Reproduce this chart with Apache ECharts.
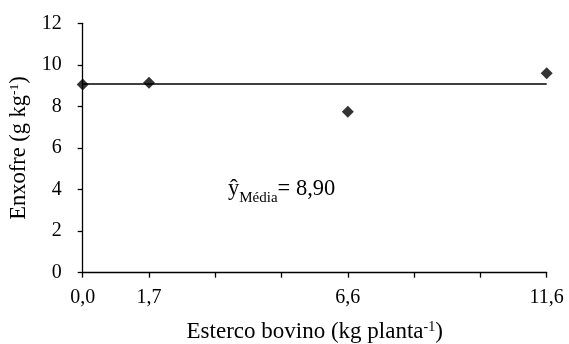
<!DOCTYPE html>
<html>
<head>
<meta charset="utf-8">
<script src="https://cdn.jsdelivr.net/npm/echarts@6/dist/echarts.min.js"></script>
<style>html,body{margin:0;padding:0;background:#fff;}#c{width:569px;height:344px;}</style>
</head>
<body>
<div id="c"></div>
<script>
const categories = ['0,0', '1,7', '', '', '6,6', '', '', '11,6'];
const enxofre = [9.05, 9.14, '-', '-', 7.75, '-', '-', 9.6];
const meanLine = [9.08, '-', '-', '-', '-', '-', '-', 9.08];
const yTicks = [0, 2, 4, 6, 8, 10, 12];
const annotationValue = '8,90';

const font = 'Liberation Serif';
const chart = echarts.init(document.getElementById('c'), null, {renderer: 'canvas'});
chart.setOption({
  animation: false,
  backgroundColor: '#fff',
  grid: {left: 82.7, right: 22.3, top: 23.3, bottom: 71.3, containLabel: false, outerBoundsMode: 'none'},
  xAxis: {
    type: 'category',
    data: categories,
    boundaryGap: false,
    axisLine: {lineStyle: {color: '#000', width: 1.3}},
    axisTick: {show: true, interval: 0, length: 5, lineStyle: {color: '#000', width: 1.3}},
    axisLabel: {interval: 0, color: '#000', fontFamily: font, fontSize: 20, margin: 15, hideOverlap: false},
    splitLine: {show: false},
    name: '{a|Esterco bovino (kg planta}{s|-1}{a|)}',
    nameLocation: 'middle',
    nameGap: 48,
    nameTextStyle: {
      rich: {
        a: {fontFamily: font, fontSize: 23, color: '#000', verticalAlign: 'bottom'},
        s: {fontFamily: font, fontSize: 14, color: '#000', verticalAlign: 'top', padding: [0, 0, 9, 0]}
      }
    }
  },
  yAxis: {
    type: 'value',
    min: yTicks[0],
    max: yTicks[yTicks.length - 1],
    interval: 2,
    axisLine: {show: true, lineStyle: {color: '#000', width: 1.3}},
    axisTick: {show: true, length: 5, lineStyle: {color: '#000', width: 1.3}},
    axisLabel: {color: '#000', fontFamily: font, fontSize: 20, margin: 21},
    splitLine: {show: false},
    name: '{a|Enxofre (g kg}{s|-1}{a|)}',
    nameLocation: 'middle',
    nameGap: 50,
    nameTextStyle: {
      rich: {
        a: {fontFamily: font, fontSize: 22.5, color: '#000', verticalAlign: 'bottom'},
        s: {fontFamily: font, fontSize: 13.5, color: '#000', verticalAlign: 'top', padding: [0, 0, 9, 0]}
      }
    }
  },
  series: [
    {
      type: 'line',
      data: meanLine,
      connectNulls: true,
      symbol: 'none',
      lineStyle: {color: '#000', width: 1.6},
      z: 2
    },
    {
      type: 'scatter',
      data: enxofre,
      symbol: 'diamond',
      symbolSize: 12,
      itemStyle: {color: '#000'},
      z: 3
    }
  ],
  graphic: [{
    type: 'text',
    left: 228,
    top: 178,
    style: {
      text: '{y|ŷ}{m|Média}{y|= ' + annotationValue + '}',
      rich: {
        y: {fontFamily: font, fontSize: 22.5, fill: '#000', verticalAlign: 'bottom'},
        m: {fontFamily: font, fontSize: 15, fill: '#000', verticalAlign: 'bottom', padding: [0, 0, -5, 0]}
      }
    }
  }]
});
</script>
</body>
</html>
